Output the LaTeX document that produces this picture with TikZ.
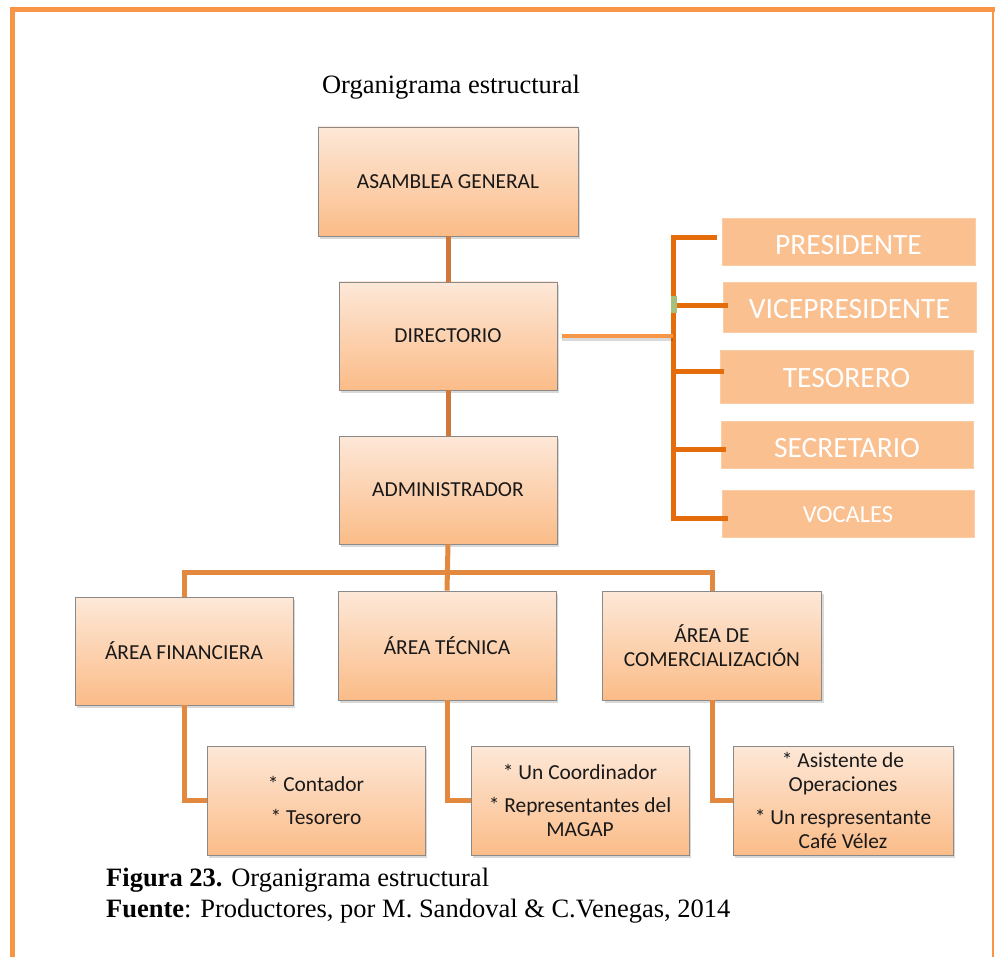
\documentclass[tikz,border=0pt]{standalone}
\usepackage{fontspec}
\setmainfont{Liberation Serif}
\newfontfamily\calfont{Carlito}
\usetikzlibrary{shadows}
\definecolor{boxtop}{HTML}{FDE8D8}
\definecolor{boxbot}{HTML}{FBBC88}
\definecolor{boxline}{HTML}{8A8A8A}
\definecolor{rboxfill}{HTML}{FAC090}
\definecolor{frameor}{HTML}{F79646}
\definecolor{vcon}{HTML}{CF7839}
\definecolor{tcon}{HTML}{E3883F}
\definecolor{bcon}{HTML}{E46C0A}
\definecolor{dcon}{HTML}{F79646}
\definecolor{gsq}{HTML}{A5C07A}
\tikzset{
  mainbox/.style={draw=boxline, line width=0.8pt, top color=boxtop, bottom color=boxbot,
    minimum width=218pt, minimum height=108pt, align=center, inner sep=2pt,
    font=\calfont\fontsize{21.4}{24}\selectfont, text=black!90,
    drop shadow={shadow xshift=2pt, shadow yshift=-3pt, opacity=0.3}},
  sidebox/.style={fill=rboxfill, draw=rboxfill!80!white, line width=0.6pt,
    minimum width=253pt, inner sep=0pt, text=white, text depth=0pt,
    font=\calfont\fontsize{29.5}{32}\selectfont},
  vconn/.style={draw=vcon, line width=5pt},
  tconn/.style={draw=tcon, line width=5pt, line join=miter},
  bconn/.style={draw=bcon, line width=5pt, line join=miter},
  dconn/.style={draw=dcon, line width=4.5pt},
  framel/.style={draw=frameor, line width=5pt, line join=miter},
  capt/.style={anchor=base west, inner sep=0pt, font=\fontsize{26.5}{31}\selectfont}
}
\begin{document}
\begin{tikzpicture}[x=1pt,y=-1pt]
\useasboundingbox (0,0) rectangle (995,957);
% frame
\draw[framel] (12,957) -- (12,9.5) -- (995,9.5);
\draw[draw=frameor, line width=2pt] (993,9.5) -- (993,957);
% title
\node[anchor=base, inner sep=0pt, font=\fontsize{26.5}{31}\selectfont] (title) at (451,94) {Organigrama estructural};
% main boxes
\node[mainbox, minimum width=260pt, minimum height=109pt] (asamblea) at (448,181.5) {ASAMBLEA GENERAL};
\node[mainbox] (directorio) at (448,336) {DIRECTORIO};
\node[mainbox] (admin) at (448,490) {ADMINISTRADOR};
\node[mainbox] (financiera) at (184,651) {ÁREA FINANCIERA};
\node[mainbox, minimum height=109pt] (tecnica) at (447,645.5) {ÁREA TÉCNICA};
\node[mainbox, minimum width=219pt, minimum height=109pt] (comercial) at (712,645.5) {ÁREA DE\\COMERCIALIZACIÓN};
\node[mainbox, minimum height=109pt] (contador) at (316,800.5) {* Contador\\[9pt]* Tesorero};
\node[mainbox, minimum height=109pt] (coord) at (580,800.5) {* Un Coordinador\\[9pt]* Representantes del\\MAGAP};
\node[mainbox, minimum width=220pt, minimum height=109pt] (asist) at (843,800.5) {* Asistente de\\Operaciones\\[9pt]* Un respresentante\\Café Vélez};
% side boxes
\node[sidebox, minimum height=47pt, text height=27pt] (presidente) at (848.5,241.5) {PRESIDENTE};
\node[sidebox, minimum height=50pt, text height=23pt] (vice) at (849.5,307) {VICEPRESIDENTE};
\node[sidebox, minimum height=53pt, text height=21pt] (tesorero) at (846.5,376.5) {TESORERO};
\node[sidebox, minimum width=252pt, minimum height=47pt, text height=25pt] (secretario) at (847,444.5) {SECRETARIO};
\node[sidebox, minimum width=252pt, minimum height=47pt, text height=17.8pt, font=\calfont\fontsize{24.5}{28}\selectfont] (vocales) at (848,513.5) {VOCALES};
% vertical main connectors
\draw[vconn] (asamblea.south) -- (directorio.north);
\draw[vconn] (directorio.south) -- (admin.north);
% tree under administrador
\coordinate (bus) at (448,572);
\draw[tconn] (admin.south) -- (tecnica.north);
\draw[tconn] (financiera.north) |- (bus) -| (comercial.north);
\draw[tconn] (financiera.south) |- (contador.west);
\draw[tconn] (tecnica.south) |- (coord.west);
\draw[tconn] (comercial.south) |- (asist.west);
% bracket to side boxes
\coordinate (bx) at (673,0);
\coordinate (tP) at ([xshift=-5pt,yshift=3.5pt]presidente.west);
\coordinate (tVi) at ([xshift=5pt,yshift=1pt]vice.west);
\coordinate (tT) at ([xshift=4pt,yshift=5.5pt]tesorero.west);
\coordinate (tS) at ([xshift=5pt,yshift=-4.5pt]secretario.west);
\coordinate (tVo) at ([xshift=6pt,yshift=-4.5pt]vocales.west);
\draw[bconn] (tP) -| (bx |- tVo) -- (tVo);
\draw[bconn] (bx |- tVi) -- (tVi);
\draw[bconn] ([xshift=-2pt]bx |- tT) -- (tT);
\draw[bconn] (bx |- tS) -- (tS);
\fill[gsq] (671,296) rectangle (677,313);
% directorio connector
\coordinate (dstart) at ([xshift=5pt]directorio.east);
\draw[draw=black, opacity=0.15, line width=4pt] ([yshift=-3pt]dstart) -- ([yshift=-3pt]bx |- dstart);
\draw[dconn] (dstart) -- (bx |- dstart);
% caption
\node[capt] (cap1) at (106,886) {\textbf{Figura 23.} Organigrama estructural};
\node[capt] (cap2) at (106,917) {\textbf{Fuente}: Productores, por M. Sandoval \& C.Venegas, 2014};
\end{tikzpicture}
\end{document}
